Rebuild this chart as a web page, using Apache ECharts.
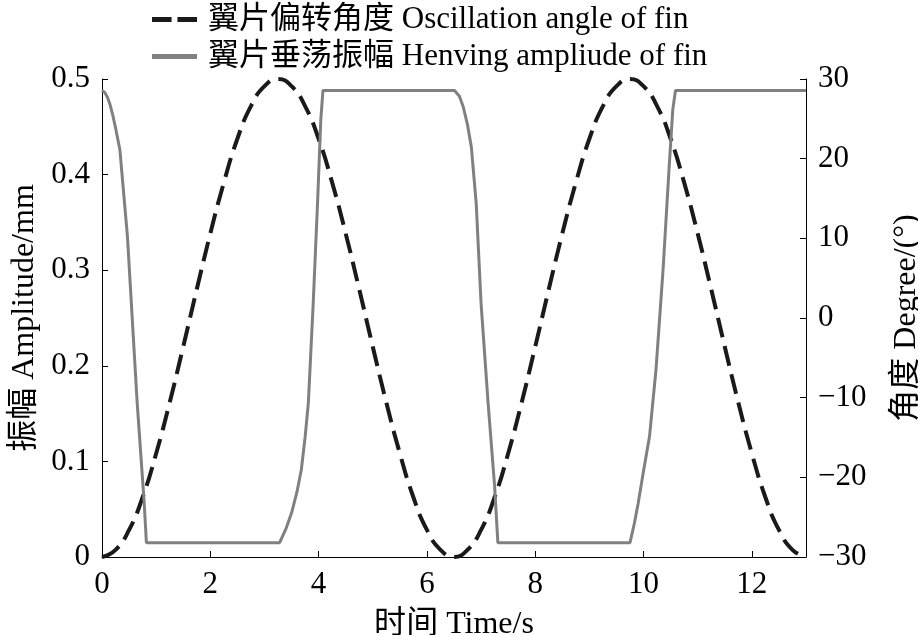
<!DOCTYPE html>
<html><head><meta charset="utf-8">
<script src="https://cdn.jsdelivr.net/npm/echarts@6/dist/echarts.min.js"></script>
<style>html,body{margin:0;padding:0;background:#fff}#c{width:918px;height:635px}</style>
</head><body><div id="c"></div>
<script>
var angleTime = [0,0.25,0.5,0.75,1,1.25,1.5,1.75,2,2.25,2.5,2.75,3,3.25,3.5,3.75,4,4.25,4.5,4.75,5,5.25,5.5,5.75,6,6.25,6.5,6.75,7,7.25,7.5,7.75,8,8.25,8.5,8.75,9,9.25,9.5,9.75,10,10.25,10.5,10.75,11,11.25,11.5,11.75,12,12.25,12.5,12.75,13];
var angleValues = [-30,-29.1,-26.6,-22.5,-17.0,-10.6,-3.6,3.6,10.6,17.0,22.5,26.6,29.1,30,29.1,26.6,22.5,17.0,10.6,3.6,-3.6,-10.6,-17.0,-22.5,-26.6,-29.1,
                   -30,-29.1,-26.6,-22.5,-17.0,-10.6,-3.6,3.6,10.6,17.0,22.5,26.6,29.1,30,29.1,26.6,22.5,17.0,10.6,3.6,-3.6,-10.6,-17.0,-22.5,-26.6,-29.1,-30];
var ampTime = [0,0.05,0.1,0.15,0.2,0.25,0.33,0.47,0.65,0.78,0.82,
               3.28,3.4,3.5,3.6,3.68,3.75,3.81,3.9,3.98,4.04,4.08,
               6.51,6.6,6.67,6.75,6.82,6.91,7.0,7.13,7.25,7.31,
               9.75,9.83,9.9,10.0,10.11,10.23,10.36,10.47,10.54,10.59,13];
var ampValues = [0.488,0.486,0.481,0.473,0.462,0.449,0.426,0.335,0.161,0.056,0.015,
                 0.015,0.03,0.046,0.068,0.091,0.125,0.161,0.265,0.37,0.457,0.488,
                 0.488,0.482,0.471,0.452,0.429,0.37,0.265,0.161,0.074,0.015,
                 0.015,0.035,0.056,0.09,0.126,0.196,0.30,0.405,0.468,0.488,0.488];
var xTicks = [0,2,4,6,8,10,12];
var seriesNames = ['翼片偏转角度 Oscillation angle of fin','翼片垂荡振幅 Henving ampliude of fin'];
var xName = '时间 Time/s', yLeftName = '振幅 Amplitude/mm', yRightName = '角度 Degree/(°)';

var FONT = '"Liberation Serif","Noto Sans CJK SC",serif';
function zip(a,b){return a.map(function(v,i){return [v,b[i]];});}
var chart = echarts.init(document.getElementById('c'));
var axisCommon = {
  axisLine:{show:true,lineStyle:{color:'#000',width:1}},
  axisTick:{show:true,inside:true,length:6,lineStyle:{color:'#000'}},
  splitLine:{show:false},
  nameTextStyle:{fontFamily:FONT,fontSize:32,color:'#000'},
  axisLabel:{fontFamily:FONT,fontSize:31,color:'#000'}
};
chart.setOption({
  animation:false,
  backgroundColor:'#fff',
  grid:{left:102,right:112,top:79,bottom:78,containLabel:false,outerBoundsMode:'none'},
  legend:{
    orient:'vertical',left:147,top:-1,itemGap:6,itemWidth:45,itemHeight:5,
    textStyle:{fontFamily:FONT,fontSize:31,color:'#000',padding:[0,0,0,6]},
    data:[
      {name:seriesNames[0],icon:'path://M0,0H20V5H0Z M26,0H46V5H26Z'},
      {name:seriesNames[1],icon:'rect'}
    ]
  },
  xAxis:Object.assign({},axisCommon,{
    type:'value',min:0,max:13,interval:2,
    name:xName,nameLocation:'middle',nameGap:52,
    axisLabel:Object.assign({},axisCommon.axisLabel,{margin:12,
      formatter:function(v){return xTicks.indexOf(v)>=0?String(v):'';}})
  }),
  yAxis:[
    Object.assign({},axisCommon,{
      type:'value',min:0,max:0.5,interval:0.1,position:'left',
      name:yLeftName,nameLocation:'middle',nameGap:60,nameRotate:90,
      axisLabel:Object.assign({},axisCommon.axisLabel,{margin:12})
    }),
    Object.assign({},axisCommon,{
      type:'value',min:-30,max:30,interval:10,position:'right',
      name:yRightName,nameLocation:'middle',nameGap:85,nameRotate:90,
      axisLabel:Object.assign({},axisCommon.axisLabel,{margin:12,
        formatter:function(v){return String(v).replace('-','−');}})
    })
  ],
  series:[
    {name:seriesNames[0],type:'line',yAxisIndex:1,smooth:true,showSymbol:false,
     data:zip(angleTime,angleValues),
     lineStyle:{color:'#1a1a1a',width:4,type:[20,9]},itemStyle:{color:'#1a1a1a'}},
    {name:seriesNames[1],type:'line',yAxisIndex:0,smooth:false,showSymbol:false,
     data:zip(ampTime,ampValues),
     lineStyle:{color:'#808080',width:3},itemStyle:{color:'#808080'}}
  ]
});
</script></body></html>
